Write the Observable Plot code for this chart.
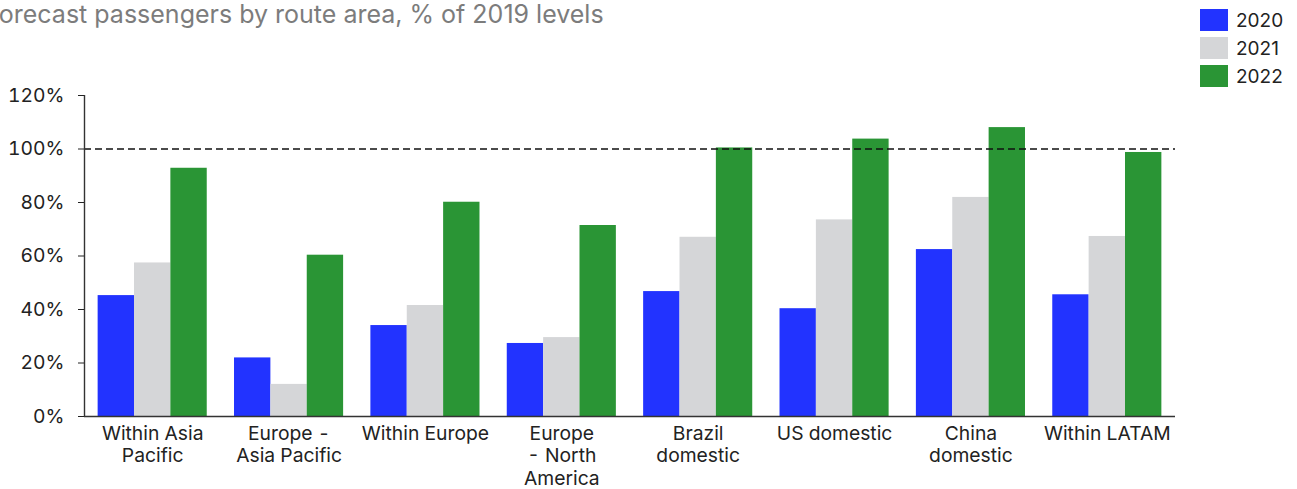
<!DOCTYPE html>
<html>
<head>
<meta charset="utf-8">
<script src="https://cdn.jsdelivr.net/npm/d3@7"></script>
<script src="https://cdn.jsdelivr.net/npm/@observablehq/plot@0.6"></script>
<style>
  body { margin: 0; background: #fff; font-family: Inter, "Noto Sans", sans-serif; }
  #wrap { position: relative; width: 1297px; height: 489px; overflow: hidden; background: #fff; }
  #title { position: absolute; left: -15px; top: -1px; font-size: 25px; color: #7c7c7c; white-space: nowrap; line-height: 30px; }
  #legend { position: absolute; left: 1200px; top: 0px; }
  .item { position: absolute; left: 0; display: flex; align-items: center; height: 22px; white-space: nowrap; font-size: 19px; color: #222; }
  .sw { width: 28px; height: 22px; margin-right: 8px; }
  #chart { position: absolute; left: 0; top: 0; }
</style>
</head>
<body>
<div id="wrap">
  <div id="chart"></div>
  <div id="title">Forecast passengers by route area, % of 2019 levels</div>
  <div id="legend"></div>
</div>
<script>
const categories = ["Within Asia\nPacific", "Europe -\nAsia Pacific", "Within Europe", "Europe\n- North\nAmerica", "Brazil\ndomestic", "US domestic", "China\ndomestic", "Within LATAM"];
const years = ["2020", "2021", "2022"];
const v2020 = [45.2, 21.9, 34.0, 27.3, 46.7, 40.3, 62.4, 45.5];
const v2021 = [57.4, 12.0, 41.5, 29.5, 67.0, 73.5, 81.9, 67.3];
const v2022 = [92.8, 60.3, 80.1, 71.4, 100.4, 103.7, 108.0, 98.7];
const yTicks = [0, 20, 40, 60, 80, 100, 120];
const colors = ["#2233ff", "#d5d6d8", "#2a9535"];

const series = [v2020, v2021, v2022];
const rows = [];
categories.forEach((c, i) => series.forEach((arr, j) => rows.push({category: c, i, year: years[j], j, value: arr[i]})));

const groupWidth = 0.8;
const barW = groupWidth / years.length;

const chart = Plot.plot({
  width: 1297,
  height: 489,
  marginLeft: 84,
  marginRight: 122,
  marginTop: 95,
  marginBottom: 73,
  style: {fontFamily: "Inter, 'Noto Sans', sans-serif", fontSize: "19.3px", color: "#222", background: "#fff"},
  x: {type: "linear", domain: [-0.5, categories.length - 0.5]},
  y: {domain: [0, 120]},
  color: {domain: years, range: colors},
  marks: [
    Plot.rectY(rows, {
      x1: d => d.i - groupWidth / 2 + d.j * barW,
      x2: d => d.i - groupWidth / 2 + (d.j + 1) * barW,
      y1: 0,
      y2: "value",
      fill: "year"
    }),
    Plot.ruleY([100], {stroke: "#111", strokeDasharray: "7,4", strokeWidth: 1.3}),
    Plot.ruleY([0], {stroke: "#333", strokeWidth: 1.4}),
    Plot.ruleX([-0.5], {y1: 0, y2: 120, stroke: "#333", strokeWidth: 1.4}),
    Plot.axisY({ticks: yTicks, tickFormat: d => d + "%", tickSize: 6, tickPadding: 14, label: null}),
    Plot.axisX({ticks: d3.range(categories.length), tickFormat: i => categories[i], tickSize: 0, tickPadding: 8, label: null, lineHeight: 1.15})
  ]
});
document.getElementById("chart").appendChild(chart);

const legend = document.getElementById("legend");
years.forEach((y, j) => {
  const it = document.createElement("div");
  it.className = "item";
  it.style.top = (9 + j * 28) + "px";
  it.innerHTML = `<div class="sw" style="background:${colors[j]}"></div><span>${y}</span>`;
  legend.appendChild(it);
});
</script>
</body>
</html>
